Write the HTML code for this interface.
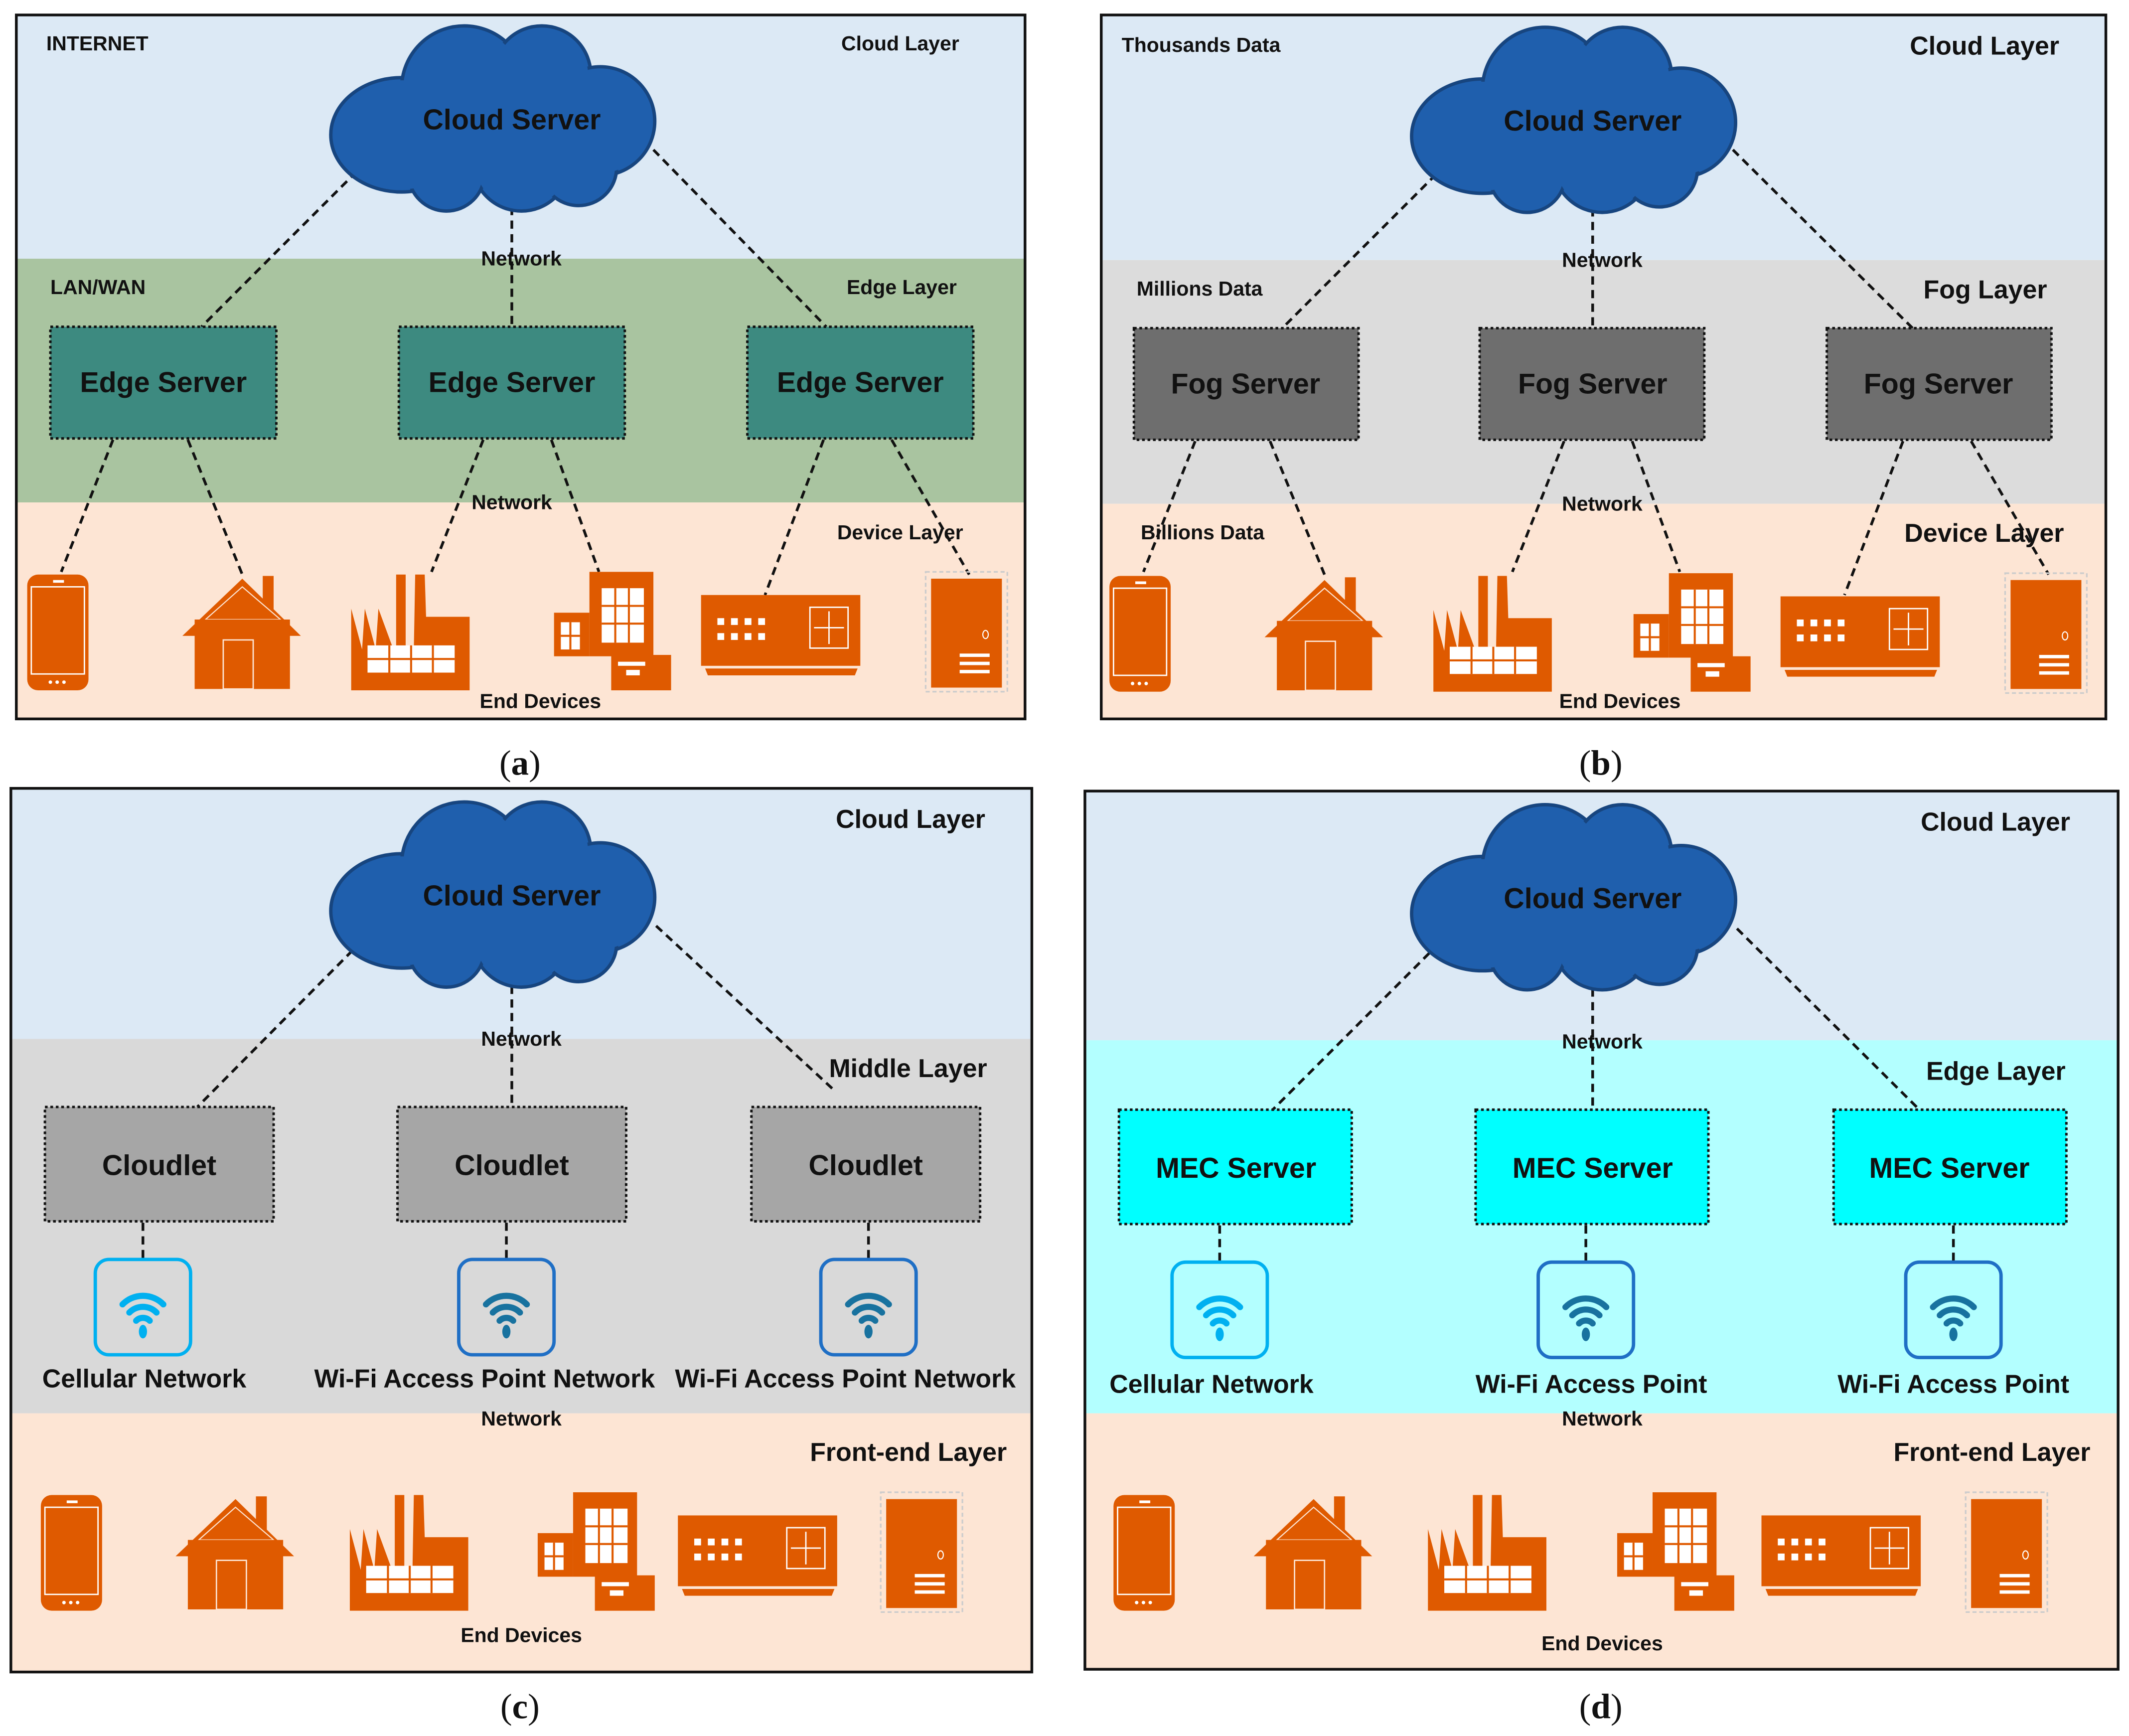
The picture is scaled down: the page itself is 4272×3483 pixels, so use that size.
<!DOCTYPE html>
<html><head><meta charset="utf-8">
<style>
html,body{margin:0;padding:0;background:#fff;}
svg{display:block;}
text{font-family:"Liberation Sans",sans-serif;font-weight:bold;fill:#111;}
.cap{font-family:"Liberation Serif",serif;font-weight:normal;font-size:26px;}
</style></head>
<body>
<svg width="4272" height="3483" viewBox="0 0 1564 1275" preserveAspectRatio="none" xmlns="http://www.w3.org/2000/svg">
<defs>
  <g id="cloud">
    <g fill="#1f5fad" stroke="#17457f" stroke-width="2.5">
      <ellipse cx="-68" cy="12" rx="52" ry="42"/>
      <circle cx="-22" cy="-22" r="46"/>
      <circle cx="35" cy="-32" r="36"/>
      <circle cx="78" cy="2" r="40"/>
      <circle cx="20" cy="32" r="36"/>
      <circle cx="-35" cy="40" r="28"/>
      <circle cx="62" cy="36" r="28"/>
    </g>
    <g fill="#1f5fad">
      <ellipse cx="-68" cy="12" rx="50" ry="40"/>
      <circle cx="-22" cy="-22" r="44"/>
      <circle cx="35" cy="-32" r="34"/>
      <circle cx="78" cy="2" r="38"/>
      <circle cx="20" cy="32" r="34"/>
      <circle cx="-35" cy="40" r="26"/>
      <circle cx="62" cy="36" r="26"/>
      <rect x="-70" y="-15" width="140" height="50"/>
    </g>
  </g>
  <g id="dPhone" fill="#df5a00">
    <rect x="20" y="422" width="45" height="85" rx="8"/>
    <rect x="23" y="431" width="39" height="64" fill="none" stroke="#fff" stroke-width="1"/>
    <rect x="39" y="426" width="8" height="2" fill="#fff"/>
    <circle cx="37" cy="501" r="1.3" fill="#fff"/><circle cx="42" cy="501" r="1.3" fill="#fff"/><circle cx="47" cy="501" r="1.3" fill="#fff"/>
  </g>
  <g id="dHouse" fill="#df5a00">
    <rect x="193" y="423" width="8" height="40"/>
    <polygon points="134,467 178,425 221,467"/>
    <polygon points="151,455 178,431 206,455" fill="none" stroke="#fde5d4" stroke-width="0.8"/>
    <rect x="143" y="455" width="70" height="51"/>
    <rect x="164" y="470" width="22" height="36" fill="none" stroke="#fde5d4" stroke-width="1"/>
  </g>
  <g id="dFactory" fill="#df5a00">
    <polygon points="258,507 258,447 266,477 268,447 276,477 278,447 289,477 291,477 291,422 298,422 298,477 304,477 305,422 312,422 313,453 345,453 345,507"/>
    <rect x="270" y="474" width="64" height="20" fill="#fff"/>
    <g stroke="#df5a00" stroke-width="1.5">
      <line x1="270" y1="484" x2="334" y2="484"/>
      <line x1="286" y1="474" x2="286" y2="494"/><line x1="302" y1="474" x2="302" y2="494"/><line x1="318" y1="474" x2="318" y2="494"/>
    </g>
  </g>
  <g id="dBuilding" fill="#df5a00">
    <rect x="433" y="420" width="47" height="62"/>
    <rect x="407" y="450" width="26" height="32"/>
    <rect x="449" y="481" width="44" height="26"/>
    <g fill="#fff">
      <rect x="442" y="432" width="31" height="40"/>
      <rect x="412" y="457" width="14" height="20"/>
      <rect x="454" y="486" width="20" height="3"/>
      <rect x="460" y="492" width="10" height="4"/>
    </g>
    <g stroke="#df5a00" stroke-width="1.5">
      <line x1="452" y1="432" x2="452" y2="472"/><line x1="462" y1="432" x2="462" y2="472"/>
      <line x1="442" y1="445" x2="473" y2="445"/><line x1="442" y1="458" x2="473" y2="458"/>
      <line x1="419" y1="457" x2="419" y2="477"/><line x1="412" y1="467" x2="426" y2="467"/>
    </g>
  </g>
  <g id="dSwitch" fill="#df5a00">
    <rect x="515" y="437" width="117" height="52"/>
    <polygon points="518,491 630,491 628,496 520,496"/>
    <rect x="595" y="446" width="28" height="30" fill="none" stroke="#fff" stroke-width="1"/>
    <g fill="#fff">
      <rect x="527" y="454" width="5" height="5"/><rect x="537" y="454" width="5" height="5"/><rect x="547" y="454" width="5" height="5"/><rect x="557" y="454" width="5" height="5"/>
      <rect x="527" y="465" width="5" height="5"/><rect x="537" y="465" width="5" height="5"/><rect x="547" y="465" width="5" height="5"/><rect x="557" y="465" width="5" height="5"/>
    </g>
    <g stroke="#fff" stroke-width="1">
      <line x1="609" y1="449" x2="609" y2="473"/><line x1="598" y1="461" x2="620" y2="461"/>
    </g>
  </g>
  <g id="dServer" fill="#df5a00">
    <rect x="680" y="420" width="60" height="88" fill="none" stroke="#ccc" stroke-width="1.2" stroke-dasharray="3,2"/>
    <rect x="684" y="425" width="52" height="80"/>
    <ellipse cx="724" cy="466" rx="2" ry="3" fill="none" stroke="#fff" stroke-width="0.8"/>
    <g fill="#fff"><rect x="705" y="480" width="22" height="2.5"/><rect x="705" y="486" width="22" height="2.5"/><rect x="705" y="492" width="22" height="2.5"/></g>
  </g>
  <g id="wifiC">
    <rect x="-35" y="-35" width="70" height="70" rx="10" fill="none" stroke="#00b0f0" stroke-width="2.5"/>
    <g fill="none" stroke="#00b0f0" stroke-width="4.5" stroke-linecap="round">
      <path d="M-15,-2 A21,21 0 0 1 15,-2"/>
      <path d="M-10,4 A14,14 0 0 1 10,4"/>
      <path d="M-5,10 A7,7 0 0 1 5,10"/>
    </g>
    <ellipse cx="0" cy="18" rx="3" ry="5" fill="#00b0f0"/>
  </g>
  <g id="wifiW">
    <rect x="-35" y="-35" width="70" height="70" rx="10" fill="none" stroke="#1f6fc5" stroke-width="2.5"/>
    <g fill="none" stroke="#18729f" stroke-width="4.5" stroke-linecap="round">
      <path d="M-15,-2 A21,21 0 0 1 15,-2"/>
      <path d="M-10,4 A14,14 0 0 1 10,4"/>
      <path d="M-5,10 A7,7 0 0 1 5,10"/>
    </g>
    <ellipse cx="0" cy="18" rx="3" ry="5" fill="#18729f"/>
  </g>
</defs>

<!-- ============ PANEL A ============ -->
<rect x="12" y="11" width="741" height="179" fill="#dce9f5"/>
<rect x="12" y="190" width="741" height="179" fill="#a9c4a0"/>
<rect x="12" y="369" width="741" height="159" fill="#fde5d4"/>
<rect x="12" y="11" width="741" height="517" fill="none" stroke="#111" stroke-width="2"/>
<g stroke="#111" stroke-width="2" stroke-dasharray="6,4" fill="none">
  <line x1="262" y1="126" x2="148" y2="240"/><line x1="376" y1="152" x2="376" y2="240"/><line x1="480" y1="110" x2="607" y2="240"/>
  <line x1="83" y1="323" x2="45" y2="420"/><line x1="138" y1="323" x2="178" y2="422"/>
  <line x1="355" y1="323" x2="317" y2="420"/><line x1="405" y1="323" x2="440" y2="420"/>
  <line x1="605" y1="323" x2="562" y2="437"/><line x1="655" y1="323" x2="712" y2="422"/>
</g>
<use href="#cloud" transform="translate(363,87)"/>
<text x="376" y="95" font-size="21" text-anchor="middle">Cloud Server</text>
<g fill="#3d8a80" stroke="#111" stroke-width="1.8" stroke-dasharray="2,2">
  <rect x="37" y="240" width="166" height="82"/><rect x="293" y="240" width="166" height="82"/><rect x="549" y="240" width="166" height="82"/>
</g>
<text x="120" y="288" font-size="21" text-anchor="middle">Edge Server</text>
<text x="376" y="288" font-size="21" text-anchor="middle">Edge Server</text>
<text x="632" y="288" font-size="21" text-anchor="middle">Edge Server</text>
<use href="#dPhone"/><use href="#dHouse"/><use href="#dFactory"/><use href="#dBuilding"/><use href="#dSwitch"/><use href="#dServer"/>
<text x="34" y="37" font-size="15">INTERNET</text>
<text x="618" y="37" font-size="15">Cloud Layer</text>
<text x="37" y="216" font-size="15">LAN/WAN</text>
<text x="622" y="216" font-size="15">Edge Layer</text>
<text x="615" y="396" font-size="15">Device Layer</text>
<text x="383" y="195" font-size="15" text-anchor="middle">Network</text>
<text x="376" y="374" font-size="15" text-anchor="middle">Network</text>
<text x="397" y="520" font-size="15" text-anchor="middle">End Devices</text>
<text x="382" y="569" class="cap" text-anchor="middle">(<tspan font-weight="bold">a</tspan>)</text>

<!-- ============ PANEL B ============ -->
<rect x="809" y="11" width="738" height="180" fill="#dce9f5"/>
<rect x="809" y="191" width="738" height="179" fill="#dcdcdc"/>
<rect x="809" y="370" width="738" height="158" fill="#fde5d4"/>
<rect x="809" y="11" width="738" height="517" fill="none" stroke="#111" stroke-width="2"/>
<g stroke="#111" stroke-width="2" stroke-dasharray="6,4" fill="none">
  <line x1="1055" y1="128" x2="942" y2="241"/><line x1="1170" y1="153" x2="1170" y2="241"/><line x1="1273" y1="110" x2="1405" y2="241"/>
  <line x1="878" y1="324" x2="840" y2="420"/><line x1="933" y1="324" x2="973" y2="422"/>
  <line x1="1149" y1="324" x2="1111" y2="420"/><line x1="1199" y1="324" x2="1234" y2="420"/>
  <line x1="1398" y1="324" x2="1355" y2="437"/><line x1="1448" y1="324" x2="1505" y2="422"/>
</g>
<use href="#cloud" transform="translate(1157,88)"/>
<text x="1170" y="96" font-size="21" text-anchor="middle">Cloud Server</text>
<g fill="#6e6e6e" stroke="#111" stroke-width="1.8" stroke-dasharray="2,2">
  <rect x="833" y="241" width="165" height="82"/><rect x="1087" y="241" width="165" height="82"/><rect x="1342" y="241" width="165" height="82"/>
</g>
<text x="915" y="289" font-size="21" text-anchor="middle">Fog Server</text>
<text x="1170" y="289" font-size="21" text-anchor="middle">Fog Server</text>
<text x="1424" y="289" font-size="21" text-anchor="middle">Fog Server</text>
<use href="#dPhone" transform="translate(795,1)"/><use href="#dHouse" transform="translate(795,1)"/><use href="#dFactory" transform="translate(795,1)"/>
<use href="#dBuilding" transform="translate(793,1)"/><use href="#dSwitch" transform="translate(793,1)"/><use href="#dServer" transform="translate(793,1)"/>
<text x="824" y="38" font-size="15">Thousands Data</text>
<text x="1403" y="40" font-size="19">Cloud Layer</text>
<text x="835" y="217" font-size="15">Millions Data</text>
<text x="1413" y="219" font-size="19">Fog Layer</text>
<text x="838" y="396" font-size="15">Billions Data</text>
<text x="1399" y="398" font-size="19">Device Layer</text>
<text x="1177" y="196" font-size="15" text-anchor="middle">Network</text>
<text x="1177" y="375" font-size="15" text-anchor="middle">Network</text>
<text x="1190" y="520" font-size="15" text-anchor="middle">End Devices</text>
<text x="1176" y="569" class="cap" text-anchor="middle">(<tspan font-weight="bold">b</tspan>)</text>

<!-- ============ PANEL C ============ -->
<rect x="8" y="579" width="750" height="184" fill="#dce9f5"/>
<rect x="8" y="763" width="750" height="275" fill="#d9d9d9"/>
<rect x="8" y="1038" width="750" height="190" fill="#fde5d4"/>
<rect x="8" y="579" width="750" height="649" fill="none" stroke="#111" stroke-width="2"/>
<g stroke="#111" stroke-width="2" stroke-dasharray="6,4" fill="none">
  <line x1="259" y1="698" x2="145" y2="813"/><line x1="376" y1="724" x2="376" y2="813"/><line x1="482" y1="680" x2="612" y2="800"/>
  <line x1="105" y1="898" x2="105" y2="925"/><line x1="372" y1="898" x2="372" y2="925"/><line x1="638" y1="898" x2="638" y2="925"/>
</g>
<use href="#cloud" transform="translate(363,657)"/>
<text x="376" y="665" font-size="21" text-anchor="middle">Cloud Server</text>
<g fill="#a6a6a6" stroke="#111" stroke-width="1.8" stroke-dasharray="2,2">
  <rect x="33" y="813" width="168" height="84"/><rect x="292" y="813" width="168" height="84"/><rect x="552" y="813" width="168" height="84"/>
</g>
<text x="117" y="863" font-size="21" text-anchor="middle">Cloudlet</text>
<text x="376" y="863" font-size="21" text-anchor="middle">Cloudlet</text>
<text x="636" y="863" font-size="21" text-anchor="middle">Cloudlet</text>
<use href="#wifiC" transform="translate(105,960)"/>
<use href="#wifiW" transform="translate(372,960)"/>
<use href="#wifiW" transform="translate(638,960)"/>
<text x="106" y="1019" font-size="19" text-anchor="middle">Cellular Network</text>
<text x="356" y="1019" font-size="19" text-anchor="middle">Wi-Fi Access Point Network</text>
<text x="621" y="1019" font-size="19" text-anchor="middle">Wi-Fi Access Point Network</text>
<text x="614" y="608" font-size="19">Cloud Layer</text>
<text x="609" y="791" font-size="19">Middle Layer</text>
<text x="595" y="1073" font-size="19">Front-end Layer</text>
<text x="383" y="768" font-size="15" text-anchor="middle">Network</text>
<text x="383" y="1047" font-size="15" text-anchor="middle">Network</text>
<text x="383" y="1206" font-size="15" text-anchor="middle">End Devices</text>
<text x="382" y="1262" class="cap" text-anchor="middle">(<tspan font-weight="bold">c</tspan>)</text>
<use href="#dPhone" transform="translate(10,676)"/><use href="#dHouse" transform="translate(-5,676)"/><use href="#dFactory" transform="translate(-1,676)"/>
<use href="#dBuilding" transform="translate(-12,676)"/><use href="#dSwitch" transform="translate(-17,676)"/><use href="#dServer" transform="translate(-33,676)"/>

<!-- ============ PANEL D ============ -->
<rect x="797" y="581" width="759" height="183" fill="#dce9f5"/>
<rect x="797" y="764" width="759" height="274" fill="#b3ffff"/>
<rect x="797" y="1038" width="759" height="188" fill="#fde5d4"/>
<rect x="797" y="581" width="759" height="645" fill="none" stroke="#111" stroke-width="2"/>
<g stroke="#111" stroke-width="2" stroke-dasharray="6,4" fill="none">
  <line x1="1050" y1="700" x2="935" y2="815"/><line x1="1170" y1="726" x2="1170" y2="815"/><line x1="1276" y1="682" x2="1410" y2="815"/>
  <line x1="896" y1="900" x2="896" y2="927"/><line x1="1165" y1="900" x2="1165" y2="927"/><line x1="1435" y1="900" x2="1435" y2="927"/>
</g>
<use href="#cloud" transform="translate(1157,659)"/>
<text x="1170" y="667" font-size="21" text-anchor="middle">Cloud Server</text>
<g fill="#00ffff" stroke="#111" stroke-width="1.8" stroke-dasharray="2,2">
  <rect x="822" y="815" width="171" height="84"/><rect x="1084" y="815" width="171" height="84"/><rect x="1347" y="815" width="171" height="84"/>
</g>
<text x="908" y="865" font-size="21" text-anchor="middle">MEC Server</text>
<text x="1170" y="865" font-size="21" text-anchor="middle">MEC Server</text>
<text x="1432" y="865" font-size="21" text-anchor="middle">MEC Server</text>
<use href="#wifiC" transform="translate(896,962)"/>
<use href="#wifiW" transform="translate(1165,962)"/>
<use href="#wifiW" transform="translate(1435,962)"/>
<text x="890" y="1023" font-size="19" text-anchor="middle">Cellular Network</text>
<text x="1169" y="1023" font-size="19" text-anchor="middle">Wi-Fi Access Point</text>
<text x="1435" y="1023" font-size="19" text-anchor="middle">Wi-Fi Access Point</text>
<text x="1411" y="610" font-size="19">Cloud Layer</text>
<text x="1415" y="793" font-size="19">Edge Layer</text>
<text x="1391" y="1073" font-size="19">Front-end Layer</text>
<text x="1177" y="770" font-size="15" text-anchor="middle">Network</text>
<text x="1177" y="1047" font-size="15" text-anchor="middle">Network</text>
<text x="1177" y="1212" font-size="15" text-anchor="middle">End Devices</text>
<text x="1176" y="1262" class="cap" text-anchor="middle">(<tspan font-weight="bold">d</tspan>)</text>
<use href="#dPhone" transform="translate(798,676)"/><use href="#dHouse" transform="translate(787,676)"/><use href="#dFactory" transform="translate(791,676)"/>
<use href="#dBuilding" transform="translate(781,676)"/><use href="#dSwitch" transform="translate(779,676)"/><use href="#dServer" transform="translate(764,676)"/>
</svg>
</body></html>
